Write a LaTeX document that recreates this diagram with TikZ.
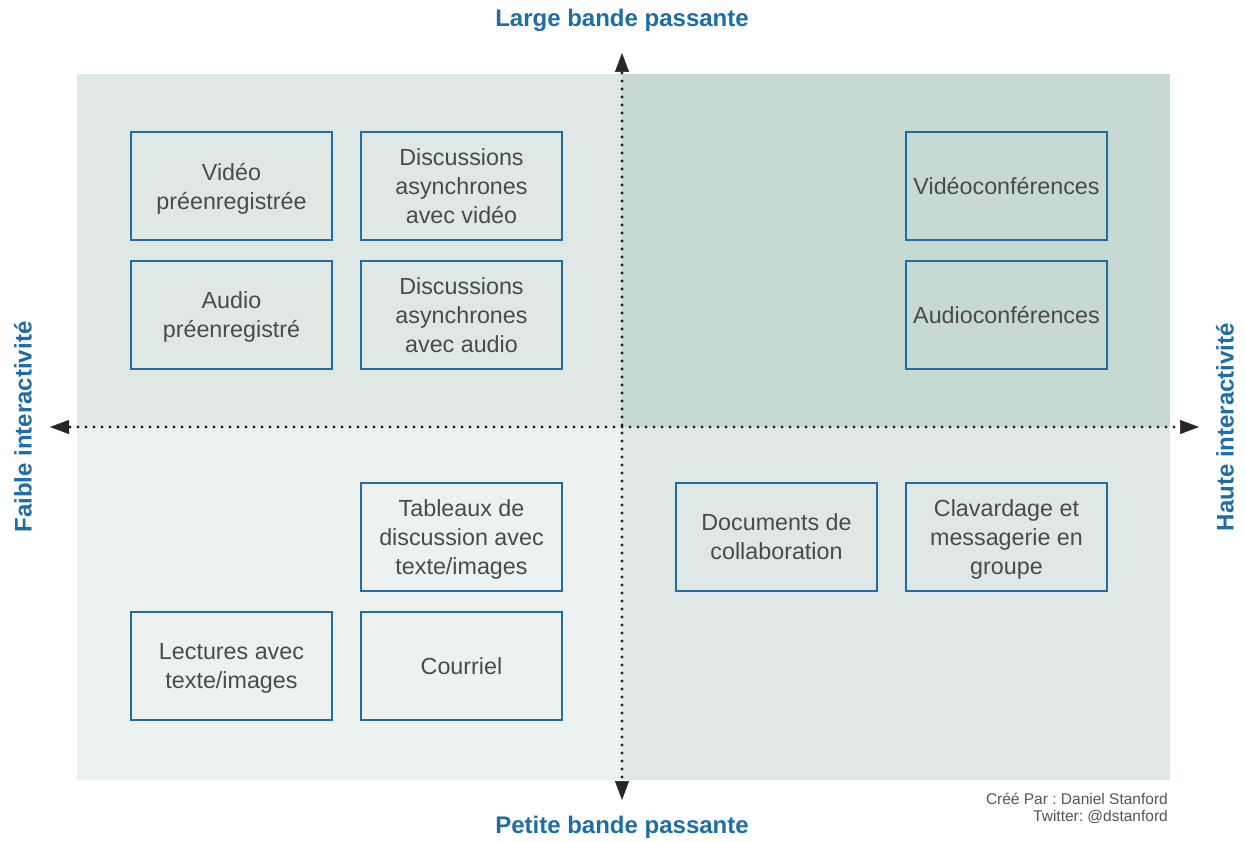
\documentclass[tikz,border=0pt]{standalone}
\usepackage{fontspec}
\setmainfont{Liberation Sans}
\usetikzlibrary{arrows.meta}
\frenchspacing
\definecolor{qTL}{HTML}{E0E8E5}
\definecolor{qTR}{HTML}{C6D9D2}
\definecolor{qBL}{HTML}{EDF2F0}
\definecolor{qBR}{HTML}{E0E8E5}
\definecolor{boxblue}{HTML}{216BA8}
\definecolor{titleblue}{HTML}{1F6DA6}
\definecolor{txtgray}{HTML}{4A4A4A}
\definecolor{credgray}{HTML}{555555}
\tikzset{
  itembox/.style={draw=boxblue, line width=2.7pt, minimum width=201pt, minimum height=108pt,
    align=center, text=txtgray, inner sep=2pt, text depth=0pt, font=\fontsize{23.3}{29}\selectfont},
  axisline/.style={line width=3.2pt, line cap=round, dash pattern=on 0pt off 8pt, black!85},
  axistip/.style={-{Triangle[length=19pt,width=14pt]}, line width=0.5pt, black!85},
  axislabel/.style={text=titleblue, font=\fontsize{24}{28}\selectfont\bfseries},
  credit/.style={text=credgray, font=\fontsize{15.5}{18}\selectfont, anchor=east, inner sep=0pt}
}
\begin{document}
\begin{tikzpicture}[x=1pt,y=-1pt]
\useasboundingbox (0,0) rectangle (1245,842);
% quadrants
\fill[qTL] (77,74) rectangle (622,427);
\fill[qTR] (622,74) rectangle (1170,427);
\fill[qBL] (77,427) rectangle (622,780);
\fill[qBR] (622,427) rectangle (1170,780);
% axes
\coordinate (top) at (622,53);
\coordinate (bottom) at (622,800);
\coordinate (left) at (50,427);
\coordinate (right) at (1199,427);
\coordinate (topb) at (622,73);
\coordinate (bottomb) at (622,781);
\coordinate (leftb) at (70,427);
\coordinate (rightb) at (1180,427);
\draw[axisline] (topb) -- (bottomb);
\draw[axisline] (leftb) -- (rightb);
\draw[axistip] (topb) -- (top);
\draw[axistip] (bottomb) -- (bottom);
\draw[axistip] (leftb) -- (left);
\draw[axistip] (rightb) -- (right);
% axis labels
\node[axislabel] (lbtop) at (622,20) {Large bande passante};
\node[axislabel] (lbbot) at (622,827) {Petite bande passante};
\node[axislabel, rotate=90] (lbleft) at (23,427) {Faible interactivité};
\node[axislabel, rotate=90] (lbright) at (1225,427) {Haute interactivité};
% boxes
\node[itembox] (b1) at (231.5,186) {Vidéo\\préenregistrée};
\node[itembox] (b2) at (461.5,186) {Discussions\\asynchrones\\avec vidéo};
\node[itembox] (b3) at (231.5,315) {Audio\\préenregistré};
\node[itembox] (b4) at (461.5,315) {Discussions\\asynchrones\\avec audio};
\node[itembox] (b5) at (1006.5,186) {Vidéoconférences};
\node[itembox] (b6) at (1006.5,315) {Audioconférences};
\node[itembox] (b7) at (461.5,537) {Tableaux de\\discussion avec\\texte/images};
\node[itembox] (b8) at (776.5,537) {Documents de\\collaboration};
\node[itembox] (b9) at (1006.5,537) {Clavardage et\\messagerie en\\groupe};
\node[itembox] (b10) at (231.5,666) {Lectures avec\\texte/images};
\node[itembox] (b11) at (461.5,666) {Courriel};
% credit
\node[credit] (cr1) at (1168,799) {Créé Par : Daniel Stanford};
\node[credit] (cr2) at (1168,817) {Twitter: @dstanford};
\end{tikzpicture}
\end{document}
